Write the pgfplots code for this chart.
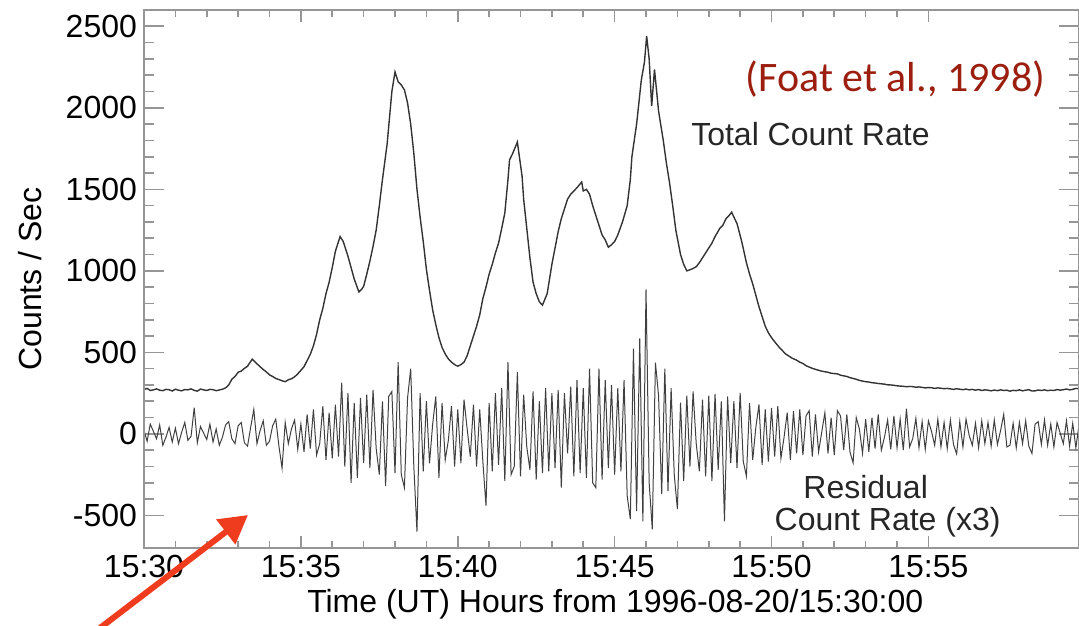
\documentclass[border=0pt]{standalone}
\usepackage{fontspec}
\setmainfont{Liberation Sans}
\newfontfamily\calibri{Carlito}
\usepackage{pgfplots}
\pgfplotsset{compat=1.18}
\usetikzlibrary{arrows.meta}
\definecolor{axisgray}{RGB}{150,150,150}
\definecolor{citered}{RGB}{155,30,15}
\definecolor{arrowred}{RGB}{240,60,30}
\newcommand\lbl{\fontsize{16}{19}\selectfont}

\begin{document}
\begin{tikzpicture}
\pgfplotsset{
  frame/.style={
    scale only axis, width=467.5pt, height=269pt,
    xmin=0, xmax=29.8, ymin=-700, ymax=2600,
    axis line style={axisgray, line width=0.8pt},
    tick style={axisgray, line width=0.8pt},
    tick align=inside,
    tick label style={font=\lbl, text=black},
    label style={font=\lbl},
    /pgf/number format/assume math mode=true,
  }
}
% y axis, data and annotations
\begin{axis}[frame,
  xtick=\empty,
  ytick={-500,0,...,2500}, minor y tick num=4,
  major tick length=10pt, minor tick length=5pt,
  yticklabel style={/pgf/number format/1000 sep={}},
  ylabel={Counts / Sec},
  ylabel style={at={(axis description cs:-0.122,0.5)}, anchor=center},
]
% total count rate
\addplot[black!80, line width=0.7pt] coordinates {
(0.0,272)(0.1,279)(0.2,266)(0.3,270)(0.4,276)(0.5,268)(0.6,265)(0.7,273)(0.8,271)(0.9,263)
(1.0,274)(1.1,268)(1.2,264)(1.3,272)(1.4,270)(1.5,276)(1.6,267)(1.7,262)(1.8,275)(1.9,270)
(2.0,266)(2.1,273)(2.2,271)(2.3,265)(2.4,269)(2.5,274)(2.6,282)(2.7,300)(2.8,335)(2.9,352)
(3.0,378)(3.1,385)(3.2,402)(3.3,415)(3.35,430)(3.45,458)(3.55,440)(3.6,430)(3.7,412)(3.8,395)
(3.9,380)(4.0,362)(4.1,352)(4.2,340)(4.3,333)(4.4,326)(4.5,320)(4.6,332)(4.7,338)(4.8,350)
(4.9,368)(5.0,390)(5.1,412)(5.2,450)(5.3,488)(5.4,540)(5.5,610)(5.6,700)(5.7,770)(5.8,860)
(5.9,930)(6.0,1020)(6.1,1120)(6.25,1210)(6.35,1180)(6.4,1150)(6.5,1090)(6.6,1020)(6.7,950)(6.85,870)
(6.95,890)(7.0,905)(7.1,980)(7.2,1060)(7.3,1150)(7.4,1250)(7.5,1400)(7.6,1560)(7.75,1780)(7.9,2100)
(8.0,2220)(8.1,2160)(8.2,2140)(8.3,2110)(8.4,2030)(8.5,1900)(8.6,1720)(8.7,1500)(8.8,1330)(8.9,1180)
(9.0,1010)(9.1,880)(9.2,760)(9.3,670)(9.4,590)(9.5,530)(9.6,490)(9.7,460)(9.8,440)(9.9,425)
(10.0,415)(10.1,425)(10.2,440)(10.3,480)(10.4,540)(10.5,600)(10.6,660)(10.7,730)(10.8,830)(10.9,900)
(11.0,980)(11.1,1040)(11.2,1110)(11.3,1170)(11.4,1260)(11.5,1355)(11.6,1560)(11.65,1680)(11.75,1720)(11.9,1790)
(11.95,1720)(12.05,1580)(12.1,1440)(12.2,1260)(12.3,1080)(12.4,930)(12.5,860)(12.6,810)(12.7,790)(12.85,860)
(12.9,920)(13.0,1040)(13.1,1140)(13.2,1240)(13.3,1320)(13.4,1380)(13.5,1440)(13.6,1470)(13.7,1490)(13.8,1510)
(13.95,1545)(14.0,1490)(14.1,1500)(14.2,1470)(14.3,1400)(14.4,1340)(14.5,1280)(14.6,1220)(14.7,1190)(14.8,1145)
(14.9,1160)(15.0,1180)(15.1,1220)(15.25,1300)(15.4,1400)(15.5,1560)(15.55,1700)(15.7,1900)(15.85,2170)(15.95,2280)
(16.02,2440)(16.1,2300)(16.18,2010)(16.27,2235)(16.4,1980)(16.55,1800)(16.65,1660)(16.75,1540)(16.85,1400)(16.95,1250)
(17.1,1100)(17.2,1040)(17.3,1000)(17.45,1010)(17.6,1025)(17.7,1050)(17.8,1080)(17.9,1110)(18.0,1140)(18.1,1170)
(18.2,1210)(18.35,1260)(18.45,1280)(18.55,1320)(18.65,1340)(18.73,1360)(18.8,1330)(18.9,1290)(19.05,1180)(19.2,1050)
(19.3,980)(19.4,920)(19.5,850)(19.6,780)(19.7,720)(19.8,660)(19.9,620)(20.0,590)(20.1,565)(20.25,530)
(20.35,510)(20.45,490)(20.55,478)(20.65,465)(20.8,452)(20.9,440)(21.0,432)(21.1,418)(21.2,410)(21.3,402)
(21.4,396)(21.5,390)(21.6,385)(21.7,381)(21.8,378)(21.9,372)(22.0,370)(22.1,368)(22.2,360)(22.3,356)
(22.4,352)(22.5,345)(22.6,340)(22.7,335)(22.8,328)(22.9,324)(23.0,320)(23.1,318)(23.2,314)(23.3,312)
(23.4,309)(23.5,307)(23.6,305)(23.7,301)(23.8,300)(23.9,298)(24.0,295)(24.1,293)(24.2,292)(24.3,289)
(24.4,291)(24.5,290)(24.6,286)(24.7,288)(24.8,285)(24.9,282)(25.0,284)(25.1,283)(25.2,279)(25.3,282)
(25.4,280)(25.5,277)(25.6,279)(25.7,276)(25.8,273)(25.9,277)(26.0,274)(26.1,271)(26.2,275)(26.3,270)
(26.4,273)(26.5,268)(26.6,272)(26.7,266)(26.8,270)(26.9,268)(27.0,264)(27.1,269)(27.2,265)(27.3,270)
(27.4,266)(27.5,268)(27.6,262)(27.7,267)(27.8,265)(27.9,270)(28.0,264)(28.1,268)(28.2,271)(28.3,263)
(28.4,264)(28.5,269)(28.6,266)(28.7,270)(28.8,265)(28.9,268)(29.0,266)(29.1,272)(29.2,268)(29.3,271)
(29.4,275)(29.5,270)(29.6,273)(29.7,279)(29.8,277)
};
% residual count rate (x3)
\addplot[black!75, line width=0.5pt] coordinates {
(0.0,20)(0.1,-45)(0.2,60)(0.3,15)(0.4,-30)(0.5,55)(0.6,-70)(0.7,-20)(0.8,40)(0.9,-50)
(1.0,35)(1.1,-60)(1.2,10)(1.3,70)(1.4,-40)(1.5,-15)(1.6,160)(1.7,-55)(1.8,45)(1.9,5)
(2.0,-35)(2.1,60)(2.2,-50)(2.3,30)(2.4,-70)(2.5,-20)(2.6,55)(2.7,75)(2.8,-30)(2.9,-60)
(3.0,50)(3.1,70)(3.2,-55)(3.3,-75)(3.4,40)(3.5,150)(3.6,-60)(3.7,20)(3.8,80)(3.9,-70)
(4.0,-45)(4.1,50)(4.2,90)(4.3,-75)(4.4,-210)(4.5,70)(4.6,-60)(4.7,30)(4.8,85)(4.9,-95)
(5.0,60)(5.1,-110)(5.2,120)(5.3,-90)(5.4,150)(5.5,-130)(5.6,-60)(5.7,170)(5.8,-160)(5.9,130)
(6.0,-150)(6.1,180)(6.2,-140)(6.3,315)(6.4,-200)(6.5,250)(6.6,-300)(6.7,190)(6.8,-270)(6.9,220)
(7.0,-180)(7.1,240)(7.2,-210)(7.3,270)(7.4,-90)(7.5,-250)(7.6,200)(7.7,-320)(7.8,230)(7.9,260)
(8.0,-240)(8.1,440)(8.2,-250)(8.3,-330)(8.4,220)(8.5,400)(8.6,-200)(8.7,-600)(8.8,250)(8.9,-230)
(9.0,200)(9.1,-180)(9.2,60)(9.3,230)(9.4,-270)(9.5,190)(9.6,-160)(9.7,-40)(9.8,170)(9.9,-200)
(10.0,150)(10.1,-180)(10.2,210)(10.3,30)(10.4,-140)(10.5,180)(10.6,-200)(10.7,150)(10.8,-170)(10.9,-440)
(11.0,190)(11.1,-230)(11.2,250)(11.3,-190)(11.4,280)(11.5,-290)(11.6,440)(11.7,-250)(11.8,-200)(11.9,380)
(12.0,-260)(12.1,240)(12.2,-80)(12.3,-220)(12.4,260)(12.5,-280)(12.6,200)(12.7,-240)(12.8,280)(12.9,-230)
(13.0,250)(13.1,-210)(13.2,270)(13.3,-330)(13.4,250)(13.5,-120)(13.6,290)(13.7,-260)(13.8,330)(13.9,-240)
(14.0,280)(14.1,-270)(14.2,400)(14.3,-300)(14.4,-330)(14.5,400)(14.6,-280)(14.7,330)(14.8,-210)(14.9,300)
(15.0,-250)(15.1,280)(15.2,-230)(15.3,330)(15.4,-380)(15.5,-523)(15.6,523)(15.7,-474)(15.8,585)(15.9,-536)
(16.0,887)(16.1,-300)(16.2,-585)(16.3,437)(16.4,234)(16.5,-370)(16.6,400)(16.7,-351)(16.8,280)(16.9,-250)
(17.0,-462)(17.1,191)(17.2,-289)(17.3,234)(17.4,-200)(17.5,260)(17.6,-60)(17.7,-230)(17.8,210)(17.9,-260)
(18.0,234)(18.1,-289)(18.2,246)(18.3,-220)(18.4,200)(18.5,-536)(18.6,230)(18.7,-180)(18.8,200)(18.9,-210)
(19.0,252)(19.1,-170)(19.2,-259)(19.3,190)(19.4,-160)(19.5,40)(19.6,180)(19.7,-190)(19.8,150)(19.9,-170)
(20.0,160)(20.1,-140)(20.2,170)(20.3,-150)(20.4,-20)(20.5,130)(20.6,-160)(20.7,140)(20.8,-120)(20.9,150)
(21.0,-130)(21.1,110)(21.2,142)(21.3,-140)(21.4,120)(21.5,-110)(21.6,10)(21.7,130)(21.8,-120)(21.9,100)
(22.0,-130)(22.1,142)(22.2,110)(22.3,-100)(22.4,120)(22.5,-110)(22.6,-178)(22.7,100)(22.8,30)(22.9,-120)
(23.0,90)(23.1,-110)(23.2,100)(23.3,-90)(23.4,120)(23.5,-100)(23.6,-20)(23.7,85)(23.8,-95)(23.9,110)
(24.0,-85)(24.1,90)(24.2,-100)(24.3,154)(24.4,-80)(24.5,-30)(24.6,95)(24.7,-85)(24.8,75)(24.9,-95)
(25.0,80)(25.1,15)(25.2,-70)(25.3,90)(25.4,-80)(25.5,70)(25.6,-90)(25.7,85)(25.8,-65)(25.9,-123)
(26.0,75)(26.1,-80)(26.2,90)(26.3,-10)(26.4,-70)(26.5,65)(26.6,-85)(26.7,80)(26.8,-60)(26.9,70)
(27.0,-75)(27.1,85)(27.2,-65)(27.3,20)(27.4,120)(27.5,-80)(27.6,-70)(27.7,65)(27.8,-85)(27.9,70)
(28.0,-60)(28.1,80)(28.2,-75)(28.3,-120)(28.4,60)(28.5,75)(28.6,-65)(28.7,85)(28.8,-70)(28.9,60)
(29.0,-80)(29.1,70)(29.2,5)(29.3,-60)(29.4,80)(29.5,-75)(29.6,65)(29.7,-85)(29.8,55)
};
\node[font=\lbl, text=black!85] at (axis cs:21.24,1841) {Total Count Rate};
\node[font=\calibri\fontsize{21}{25}\selectfont, text=citered] at (axis cs:23.95,2174) {(Foat et al., 1998)};
\node[font=\lbl, text=black!85, inner sep=0pt] at (axis cs:23.0,-326) {Residual};
\node[font=\lbl, text=black!85, inner sep=0pt] at (axis cs:23.7,-543) {Count Rate (x3)};
\end{axis}
% x axis with shorter ticks
\begin{axis}[frame,
  ytick=\empty,
  xtick={0,5,...,25},
  xticklabels={15:30,15:35,15:40,15:45,15:50,15:55},
  minor x tick num=4,
  major tick length=6pt, minor tick length=3.5pt,
  xlabel={Time (UT) Hours from 1996-08-20/15:30:00},
  xlabel style={at={(axis description cs:0.504,-0.104)}, anchor=center},
]
\end{axis}
\draw[arrowred, line width=3pt, -{Triangle[length=14pt,width=15pt]}] (-22pt,-40pt) -- (52pt,16.5pt);
\pgfresetboundingbox
\useasboundingbox (-72pt,-38.5pt) rectangle (467.5pt,274pt);
\end{tikzpicture}
\end{document}
